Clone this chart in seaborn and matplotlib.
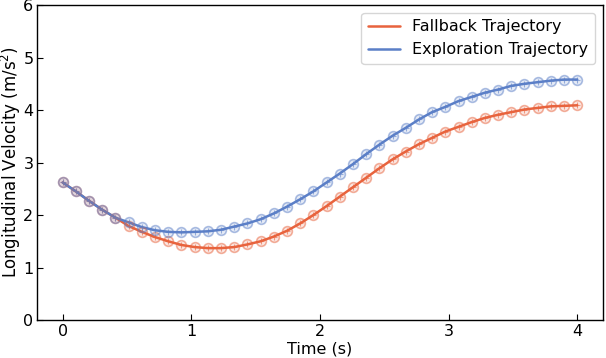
import numpy as np
import pandas as pd
import matplotlib
matplotlib.use("Agg")
import matplotlib.pyplot as plt
import seaborn as sns

# 40 samples over 4 s
time = np.linspace(0, 4, 40)

fallback = [2.62, 2.45, 2.27, 2.10, 1.95, 1.79, 1.68, 1.58, 1.50, 1.43,
            1.39, 1.37, 1.37, 1.39, 1.44, 1.50, 1.59, 1.70, 1.84, 2.00,
            2.17, 2.35, 2.53, 2.71, 2.89, 3.06, 3.21, 3.35, 3.47, 3.59,
            3.68, 3.77, 3.85, 3.91, 3.96, 4.01, 4.04, 4.07, 4.08, 4.09]

exploration = [2.62, 2.45, 2.27, 2.10, 1.95, 1.86, 1.77, 1.71, 1.68, 1.67,
               1.68, 1.69, 1.72, 1.78, 1.84, 1.92, 2.03, 2.16, 2.30, 2.45,
               2.62, 2.79, 2.97, 3.16, 3.34, 3.51, 3.66, 3.82, 3.96, 4.06,
               4.17, 4.25, 4.33, 4.39, 4.46, 4.50, 4.53, 4.56, 4.58, 4.58]

labels = ["Fallback Trajectory", "Exploration Trajectory"]
colors = ["#e8633d", "#5b7fc7"]

df = pd.DataFrame({
    "Time": np.concatenate([time, time]),
    "Velocity": fallback + exploration,
    "Trajectory": [labels[0]] * len(time) + [labels[1]] * len(time),
})

sns.set_style("white")
plt.rcParams["font.family"] = ["DejaVu Sans"]
plt.rcParams["text.color"] = "black"
plt.rcParams["axes.labelcolor"] = "black"
plt.rcParams["xtick.color"] = "black"
plt.rcParams["ytick.color"] = "black"

fig = plt.figure(figsize=(6.06, 3.58), dpi=100)
ax = fig.add_axes([0.061, 0.106, 0.934, 0.880])

sns.lineplot(data=df, x="Time", y="Velocity", hue="Trajectory",
             palette=colors, linewidth=1.8, ax=ax)

# ring + cross markers on each sample
for lab, col in zip(labels, colors):
    sub = df[df["Trajectory"] == lab]
    ax.plot(sub["Time"], sub["Velocity"], linestyle="none", marker="o",
            markersize=7, mec=col, alpha=0.5, mew=1.2, fillstyle="none")
    ax.plot(sub["Time"], sub["Velocity"], linestyle="none", marker="o",
            markersize=7, mfc=col, mec="none", alpha=0.15)
    ax.plot(sub["Time"], sub["Velocity"], linestyle="none", marker="+",
            markersize=5, mec=col, alpha=0.6, mew=0.8)

ax.set_xlim(-0.2, 4.2)
ax.set_ylim(0, 6)
ax.set_xticks([0, 1, 2, 3, 4])
ax.set_yticks([0, 1, 2, 3, 4, 5, 6])
ax.set_xlabel("Time (s)", fontsize=11.5, labelpad=2)
ax.set_ylabel("Longitudinal Velocity (m/s$^2$)", fontsize=12)
ax.yaxis.set_label_coords(-0.025, 0.5)
ax.tick_params(direction="in", labelsize=11.5, length=4, width=0.8,
               left=True, bottom=True, pad=2.5)
for s in ax.spines.values():
    s.set_color("black")
    s.set_linewidth(1.0)

ax.legend(loc="upper right", fontsize=11.5, frameon=True, title=None)

fig.savefig("out.png", dpi=100)
